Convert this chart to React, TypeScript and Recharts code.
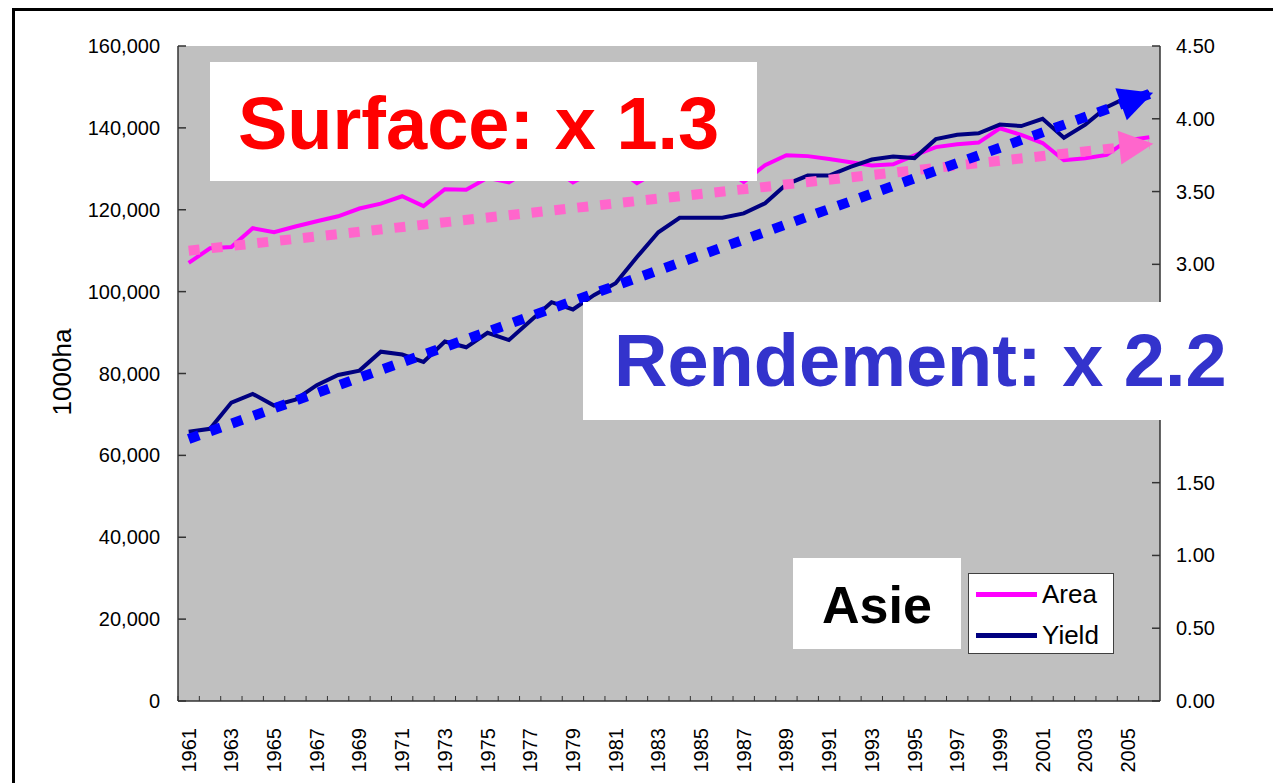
import { LineChart, Line, XAxis, YAxis, CartesianGrid } from "recharts";

const years = [
  "1961", "1962", "1963", "1964", "1965", "1966", "1967", "1968", "1969", "1970",
  "1971", "1972", "1973", "1974", "1975", "1976", "1977", "1978", "1979", "1980",
  "1981", "1982", "1983", "1984", "1985", "1986", "1987", "1988", "1989", "1990",
  "1991", "1992", "1993", "1994", "1995", "1996", "1997", "1998", "1999", "2000",
  "2001", "2002", "2003", "2004", "2005", "2006",
];

// 1000 ha
const area = [
  107000, 110600, 110900, 115500, 114500, 115900, 117200, 118400, 120300, 121500,
  123300, 120900, 125000, 124900, 127800, 126700, 129800, 130500, 126700, 129500,
  130300, 126500, 129500, 130800, 131000, 130600, 126800, 130900, 133300, 133100,
  132400, 131600, 130800, 131100, 133300, 135300, 136000, 136400, 139900, 138300,
  136300, 132100, 132600, 133400, 137000, 137700,
];

// t/ha
const yieldT = [
  1.85, 1.87, 2.05, 2.11, 2.03, 2.07, 2.17, 2.24, 2.27, 2.4,
  2.38, 2.33, 2.47, 2.43, 2.53, 2.48, 2.61, 2.74, 2.69, 2.79,
  2.87, 3.05, 3.22, 3.32, 3.32, 3.32, 3.35, 3.42, 3.55, 3.61,
  3.61, 3.67, 3.72, 3.74, 3.73, 3.86, 3.89, 3.9, 3.96, 3.95,
  4.0, 3.87, 3.96, 4.08, 4.15, 4.18,
];

// trend arrows: value at first and last year
const areaTrend = [110000, 136000];
const yieldTrend = [1.8, 4.17];

const leftTicks = [0, 20000, 40000, 60000, 80000, 100000, 120000, 140000, 160000];
// 2.00 and 2.50 are hidden under the "Rendement" box
const rightTicks = [0, 0.5, 1, 1.5, 3, 3.5, 4, 4.5];

const data = years.map((year, i) => ({
  year,
  area: area[i],
  yield: yieldT[i],
  areaTrend: i === 0 ? areaTrend[0] : i === years.length - 1 ? areaTrend[1] : null,
  yieldTrend: i === 0 ? yieldTrend[0] : i === years.length - 1 ? yieldTrend[1] : null,
}));

const W = 1273;
const H = 783;
const PLOT_LEFT = 178;
const PLOT_RIGHT = 1160;
const PLOT_TOP = 46;
const PLOT_BOTTOM = 701;
const BAND = (PLOT_RIGHT - PLOT_LEFT) / years.length;
const FONT = "'Liberation Sans', Arial, sans-serif";

const XTick = (props: any) => {
  const { x, payload, index } = props;
  const lx = x - BAND / 2;
  const ly = PLOT_BOTTOM + 27;
  return (
    <g>
      <line x1={lx} x2={lx} y1={PLOT_BOTTOM} y2={PLOT_BOTTOM - 5} stroke="#333" strokeWidth={1} />
      {index % 2 === 0 && (
        <text
          x={x}
          y={ly}
          transform={`rotate(-90 ${x} ${ly})`}
          textAnchor="end"
          dominantBaseline="central"
          fontSize={20}
          fontFamily={FONT}
          fill="#000"
        >
          {payload.value}
        </text>
      )}
    </g>
  );
};

const LeftTick = (props: any) => {
  const { y, payload } = props;
  return (
    <g>
      <line x1={PLOT_LEFT} x2={PLOT_LEFT + 8} y1={y} y2={y} stroke="#333" strokeWidth={1.5} />
      <text x={160} y={y} textAnchor="end" dominantBaseline="central" fontSize={20} fontFamily={FONT} fill="#000">
        {payload.value.toLocaleString("en-US")}
      </text>
    </g>
  );
};

const RightTick = (props: any) => {
  const { y, payload } = props;
  return (
    <g>
      <line x1={PLOT_RIGHT - 8} x2={PLOT_RIGHT} y1={y} y2={y} stroke="#333" strokeWidth={1.5} />
      <text x={1176} y={y} textAnchor="start" dominantBaseline="central" fontSize={20} fontFamily={FONT} fill="#000">
        {payload.value.toFixed(2)}
      </text>
    </g>
  );
};

const arrowDot = (color: string, fallbackSlope: number) => (props: any) => {
  const { cx, cy, index, points } = props;
  if (index !== years.length - 1 || cx == null || cy == null) return <g key={`d${index}`} />;
  let dx = 1;
  let dy = fallbackSlope;
  const valid = (points || []).filter((p: any) => p && p.x != null && p.y != null);
  if (valid.length > 1) {
    dx = valid[valid.length - 1].x - valid[0].x;
    dy = valid[valid.length - 1].y - valid[0].y;
  }
  const len = Math.hypot(dx, dy);
  const ux = dx / len;
  const uy = dy / len;
  const tx = cx + ux * 4;
  const ty = cy + uy * 4;
  const bx = tx - ux * 34;
  const by = ty - uy * 34;
  const px = -uy * 17;
  const py = ux * 17;
  return (
    <polygon
      key={`d${index}`}
      points={`${tx},${ty} ${bx + px},${by + py} ${bx - px},${by - py}`}
      fill={color}
    />
  );
};

const boxText = (
  left: number,
  top: number,
  width: number,
  height: number,
  text: string,
  color: string,
  size: number,
  textLeft: number,
  textTop: number
) => (
  <div
    style={{
      position: "absolute",
      left,
      top,
      width,
      height,
      background: "#fff",
    }}
  >
    <div
      style={{
        position: "absolute",
        left: textLeft,
        top: textTop,
        fontSize: size,
        lineHeight: 1,
        fontWeight: "bold",
        color,
        fontFamily: FONT,
        whiteSpace: "nowrap",
      }}
    >
      {text}
    </div>
  </div>
);

const App = () => {
  return (
    <div style={{ position: "absolute", left: 0, top: 0, width: W, height: H, overflow: "hidden", background: "#fff", fontFamily: FONT }}>
      <div style={{ position: "absolute", left: 12, top: 8, width: 1320, height: 820, border: "3px solid #000" }} />

      <div style={{ position: "absolute", left: 0, top: 0 }}>
        <LineChart width={W} height={H} data={data} margin={{ top: PLOT_TOP, right: 0, bottom: 0, left: 0 }}>
          <CartesianGrid horizontal={false} vertical={false} fill="#c0c0c0" fillOpacity={1} />
          <XAxis
            dataKey="year"
            interval={0}
            height={H - PLOT_BOTTOM}
            padding={{ left: BAND / 2, right: BAND / 2 }}
            tick={<XTick />}
            tickLine={false}
            axisLine={{ stroke: "#333", strokeWidth: 1.5 }}
          />
          <XAxis
            xAxisId="top"
            dataKey="year"
            orientation="top"
            height={0}
            tick={false}
            tickLine={false}
            axisLine={{ stroke: "#808080", strokeWidth: 1.5 }}
          />
          <YAxis
            yAxisId="left"
            width={PLOT_LEFT}
            domain={[0, 160000]}
            ticks={leftTicks}
            interval={0}
            tick={<LeftTick />}
            tickLine={false}
            axisLine={{ stroke: "#333", strokeWidth: 1.5 }}
          />
          <YAxis
            yAxisId="right"
            orientation="right"
            width={W - PLOT_RIGHT}
            domain={[0, 4.5]}
            ticks={rightTicks}
            interval={0}
            tick={<RightTick />}
            tickLine={false}
            axisLine={{ stroke: "#333", strokeWidth: 1.5 }}
          />
          <Line yAxisId="left" dataKey="area" stroke="#ff00ff" strokeWidth={4} dot={false} activeDot={false} isAnimationActive={false} />
          <Line yAxisId="right" dataKey="yield" stroke="#000080" strokeWidth={4} dot={false} activeDot={false} isAnimationActive={false} />
          <Line
            yAxisId="left"
            dataKey="areaTrend"
            stroke="#ff66cc"
            strokeWidth={10}
            strokeDasharray="11 12"
            connectNulls
            dot={arrowDot("#ff66cc", -0.112)}
            activeDot={false}
            isAnimationActive={false}
          />
          <Line
            yAxisId="right"
            dataKey="yieldTrend"
            stroke="#0000ff"
            strokeWidth={10}
            strokeDasharray="11 12"
            connectNulls
            dot={arrowDot("#0000ff", -0.362)}
            activeDot={false}
            isAnimationActive={false}
          />
        </LineChart>
      </div>

      <div
        style={{
          position: "absolute",
          left: 62,
          top: 372,
          transform: "translate(-50%, -50%) rotate(-90deg)",
          fontSize: 26,
          fontFamily: FONT,
          color: "#000",
          whiteSpace: "nowrap",
        }}
      >
        1000ha
      </div>

      {boxText(210, 62, 547, 119, "Surface: x 1.3", "#ff0000", 74, 28, 25)}
      {boxText(583, 302, 660, 118, "Rendement: x 2.2", "#3333cc", 74, 31, 22)}
      {boxText(793, 558, 168, 91, "Asie", "#000", 52, 29, 21)}

      <div
        style={{
          position: "absolute",
          left: 968,
          top: 573,
          width: 146,
          height: 81,
          background: "#fff",
          border: "1px solid #404040",
          boxSizing: "border-box",
          fontFamily: FONT,
          fontSize: 26,
        }}
      >
        {[
          { name: "Area", color: "#ff00ff", top: 0 },
          { name: "Yield", color: "#000080", top: 41 },
        ].map((d) => (
          <div key={d.name} style={{ position: "absolute", left: 7, top: d.top + 4, display: "flex", alignItems: "center", height: 32 }}>
            <div style={{ width: 61, height: 5, background: d.color }} />
            <span style={{ marginLeft: 5, lineHeight: 1 }}>{d.name}</span>
          </div>
        ))}
      </div>
    </div>
  );
};

export default App;
